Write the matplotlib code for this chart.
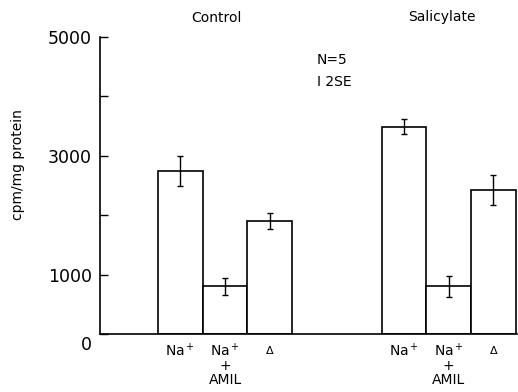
import matplotlib
matplotlib.use('Agg')
import matplotlib.pyplot as plt
import matplotlib.transforms as mtransforms

# 数据
groups = ['Control', 'Salicylate']
labels = ['Na$^+$', 'Na$^+$\n+\nAMIL', '\u0394'] * 2
values = [2750, 800, 1900, 3490, 800, 2420]
errors = [250, 150, 130, 125, 170, 250]
yticks = [0, 1000, 2000, 3000, 4000, 5000]
ytick_labels = ['0', '1000', '', '3000', '', '5000']

# 位置（以柱宽为单位）
pos = [1.8, 2.8, 3.8, 6.8, 7.8, 8.8]

W, H = 518, 392
fig = plt.figure(figsize=(W / 100, H / 100), dpi=100)
ax = fig.add_axes([100 / W, 1 - 334 / H, 417 / W, (334 - 37) / H])

ax.bar(pos, values, width=1.0, color='white', edgecolor='black', linewidth=1.2)
ax.errorbar(pos, values, yerr=errors, fmt='none', ecolor='black',
            elinewidth=1.0, capsize=2.5, capthick=1.0)

ax.set_xlim(0, 9.33)
ax.set_ylim(0, 5000)
ax.spines['top'].set_visible(False)
ax.spines['right'].set_visible(False)
ax.spines['left'].set_linewidth(1.2)
ax.spines['bottom'].set_linewidth(1.2)

ax.set_yticks(yticks)
ax.set_yticklabels(ytick_labels, fontsize=12.5)
ax.tick_params(axis='y', direction='in', length=6, width=1.0, pad=6)
# "0" 标签略低于基线
zero = ax.get_yticklabels()[0]
zero.set_transform(zero.get_transform() +
                   mtransforms.ScaledTranslation(0, -9 / 100, fig.dpi_scale_trans))

ax.set_xticks(pos)
ax.set_xticklabels(labels, fontsize=10, linespacing=0.95)
ax.tick_params(axis='x', length=0, pad=6)
for i, t in enumerate(ax.get_xticklabels()):
    if i % 3 == 2:
        t.set_fontsize(8)
        t.set_transform(t.get_transform() +
                        mtransforms.ScaledTranslation(0, -4 / 100, fig.dpi_scale_trans))

ax.set_ylabel('cpm/mg protein', fontsize=10)
ax.yaxis.set_label_coords(-0.18, 0.57)

# 组标题与说明
fig.text(216 / W, 1 - 18 / H, groups[0], ha='center', va='center', fontsize=10)
fig.text(442 / W, 1 - 17 / H, groups[1], ha='center', va='center', fontsize=10)
fig.text(317 / W, 1 - 60 / H, 'N=5', ha='left', va='center', fontsize=10)
fig.text(317 / W, 1 - 82 / H, 'I 2SE', ha='left', va='center', fontsize=10)

fig.savefig('out.png', dpi=100)
